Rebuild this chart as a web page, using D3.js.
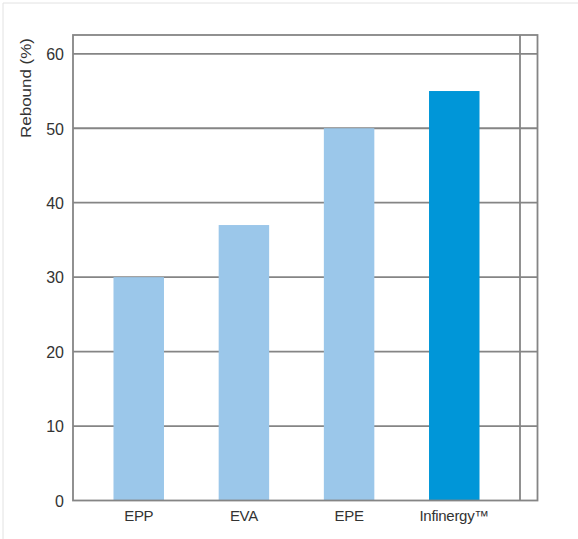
<!DOCTYPE html>
<html><head><meta charset="utf-8">
<script src="https://cdn.jsdelivr.net/npm/d3@7"></script>
<style>
html,body{margin:0;padding:0;background:#fff;}
svg{display:block;}
text{font-family:"Liberation Sans",Arial,sans-serif;fill:#333;}
</style></head>
<body>
<svg id="chart" width="578" height="539"></svg>
<script>
const categories = ["EPP", "EVA", "EPE", "Infinergy\u2122"];
const values = [30, 37, 50, 55];
const highlight = [false, false, false, true];
const yTicks = [0, 10, 20, 30, 40, 50, 60];
const yTitle = "Rebound (%)";

(function(){
const svg = d3.select("#chart");
const pL = 73, pR = 520, pOuterR = 537.5, pT = 35, pB = 500.5;

// faint page border
svg.append("line").attr("x1",3).attr("x2",578).attr("y1",3).attr("y2",3).attr("stroke","#e2e2e2").attr("stroke-width",1);
svg.append("line").attr("x1",3).attr("x2",3).attr("y1",3).attr("y2",539).attr("stroke","#e2e2e2").attr("stroke-width",1);

const y = d3.scaleLinear().domain([0, 60]).range([pB, 53.8]);
const x = d3.scaleBand().domain(categories).range([pL, pR]).paddingInner(0.52).paddingOuter(0.385);

const grid = "#858585";
// gridlines
svg.append("g").selectAll("line").data(yTicks.filter(d=>d>0)).join("line")
  .attr("x1", pL).attr("x2", pOuterR)
  .attr("y1", d=>y(d)).attr("y2", d=>y(d))
  .attr("stroke", grid).attr("stroke-width", 1.8);

// bars
svg.append("g").selectAll("rect").data(values).join("rect")
  .attr("x", (d,i)=>x(categories[i]))
  .attr("width", x.bandwidth())
  .attr("y", d=>y(d))
  .attr("height", d=>pB - y(d))
  .attr("fill", (d,i)=>highlight[i] ? "#0096d8" : "#9bc7ea");

// frame
svg.append("rect").attr("x", pL).attr("y", pT).attr("width", pOuterR-pL).attr("height", pB-pT)
  .attr("fill","none").attr("stroke", grid).attr("stroke-width", 1.8);
svg.append("line").attr("x1", pR).attr("x2", pR).attr("y1", pT).attr("y2", pB)
  .attr("stroke", grid).attr("stroke-width", 1.8);

// y axis labels
const yAxis = d3.axisLeft(y).tickValues(yTicks).tickSize(0).tickPadding(9);
const ya = svg.append("g").attr("transform", `translate(${pL},0)`).call(yAxis);
ya.select(".domain").remove();
ya.selectAll("text").attr("font-size", 16).style("font-family","'Liberation Sans',Arial,sans-serif").attr("fill","#444").attr("dy","0.36em");

// x axis labels
const xAxis = d3.axisBottom(x).tickSize(0).tickPadding(10);
const xa = svg.append("g").attr("transform", `translate(0,${pB})`).call(xAxis);
xa.select(".domain").remove();
xa.selectAll("text").attr("font-size", 15).style("font-family","'Liberation Sans',Arial,sans-serif").attr("fill","#444").attr("letter-spacing","-0.3px");

// y title
svg.append("text").attr("transform", "translate(31,88) rotate(-90)")
  .attr("text-anchor","middle").attr("font-size", 15).attr("fill","#444")
  .attr("textLength", 100).attr("lengthAdjust","spacingAndGlyphs")
  .text(yTitle);
})();
</script>
</body></html>
